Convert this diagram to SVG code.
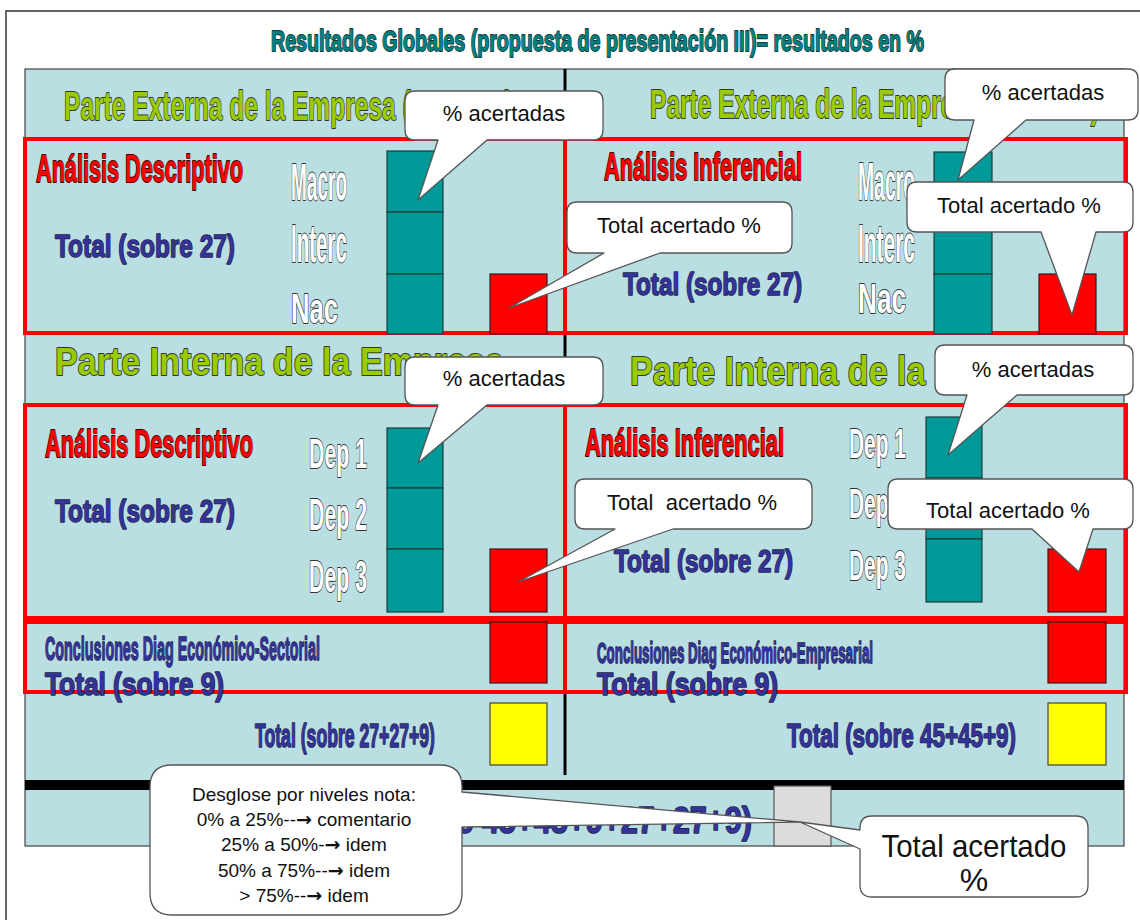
<svg xmlns="http://www.w3.org/2000/svg" width="1140" height="920" viewBox="0 0 1140 920">
<style>
.t{font-family:"Liberation Sans Narrow","Liberation Sans",Arial,sans-serif;font-weight:bold;paint-order:stroke;stroke-linejoin:round}
.title{fill:#008080;stroke:#173737;stroke-width:1.8px;font-size:30px}
.green{fill:#99CC00;stroke:#333;stroke-width:1.8px}
.red{fill:#FF0000;stroke:#3a0000;stroke-width:1.8px}
.navy{fill:#333399;stroke:#1a1a40;stroke-width:1.5px}
.white{fill:#fff;stroke:#333;stroke-width:1.8px}
.box{fill:none;stroke:#FF0000;stroke-width:4}
.teal{fill:#009999;stroke:#1e3c3c;stroke-width:1.2}
.rsq{fill:#FF0000;stroke:#3a1a1a;stroke-width:1.2}
.ysq{fill:#FFFF00;stroke:#444;stroke-width:1.2}
.callout{fill:#fff;stroke:#555;stroke-width:1.3;stroke-linejoin:round}
.ct{font-family:"Liberation Sans",Arial,sans-serif;fill:#111;font-size:22px;text-anchor:middle}
.big{font-size:32px}
.dt{font-family:"Liberation Sans","DejaVu Sans",Arial,sans-serif;fill:#111;font-size:19px;text-anchor:middle}
.ar{font-family:"DejaVu Sans",sans-serif;font-weight:bold}
</style>
<rect x="0" y="0" width="1140" height="920" fill="#fff"/>
<rect x="6" y="11" width="1200" height="1000" fill="#fff" stroke="#333" stroke-width="1.5"/>

<g id="title">
<text class="t title" x="271" y="51" textLength="653" lengthAdjust="spacingAndGlyphs">Resultados Globales (propuesta de presentación III)= resultados en %</text>
</g>

<g id="panel">
<rect x="25" y="69" width="1099" height="777" fill="#BADFE2" stroke="#444" stroke-width="1.2"/>
<line x1="565" y1="69" x2="565" y2="775" stroke="#000" stroke-width="3"/>
<rect x="25" y="780" width="1099" height="10" fill="#000"/>
</g>

<g id="headers">
<text class="t green" x="64" y="120" font-size="41" textLength="449" lengthAdjust="spacingAndGlyphs">Parte Externa de la Empresa (Entorno)</text>
<text class="t green" x="650" y="118" font-size="40" textLength="449" lengthAdjust="spacingAndGlyphs">Parte Externa de la Empresa (Entorno)</text>
<text class="t green" x="55" y="375" font-size="39" textLength="449" lengthAdjust="spacingAndGlyphs">Parte Interna de la Empresa</text>
<text class="t green" x="630" y="385" font-size="40" textLength="449" lengthAdjust="spacingAndGlyphs">Parte Interna de la Empresa</text>
</g>

<g id="ext-desc">
<rect class="box" x="25" y="139" width="540" height="194"/>
<text class="t red" x="36" y="182" font-size="38" textLength="207" lengthAdjust="spacingAndGlyphs">Análisis Descriptivo</text>
<text class="t navy" x="55" y="257" font-size="32" textLength="180" lengthAdjust="spacingAndGlyphs">Total (sobre 27)</text>
<text class="t white" x="291" y="200" font-size="52" textLength="56" lengthAdjust="spacingAndGlyphs">Macro</text>
<text class="t white" x="291" y="262" font-size="53" textLength="56" lengthAdjust="spacingAndGlyphs">Interc</text>
<text class="t white" x="291" y="323" font-size="42" textLength="47" lengthAdjust="spacingAndGlyphs">Nac</text>
<rect class="teal" x="387" y="151" width="56" height="61"/>
<rect class="teal" x="387" y="212" width="56" height="62"/>
<rect class="teal" x="387" y="274" width="56" height="60"/>
<rect class="rsq" x="490" y="274" width="57" height="60"/>
</g>

<g id="ext-inf">
<rect class="box" x="565" y="139" width="561" height="194"/>
<text class="t red" x="604" y="180" font-size="38" textLength="198" lengthAdjust="spacingAndGlyphs">Análisis Inferencial</text>
<text class="t navy" x="623" y="295" font-size="32" textLength="179" lengthAdjust="spacingAndGlyphs">Total (sobre 27)</text>
<text class="t white" x="858" y="200" font-size="54" textLength="57" lengthAdjust="spacingAndGlyphs">Macro</text>
<text class="t white" x="858" y="262" font-size="54" textLength="57" lengthAdjust="spacingAndGlyphs">Interc</text>
<text class="t white" x="858" y="313" font-size="42" textLength="48" lengthAdjust="spacingAndGlyphs">Nac</text>
<rect class="teal" x="934" y="152" width="58" height="61"/>
<rect class="teal" x="934" y="213" width="58" height="61"/>
<rect class="teal" x="934" y="274" width="58" height="60"/>
<rect class="rsq" x="1039" y="274" width="57" height="60"/>
</g>

<g id="int-desc">
<rect class="box" x="25" y="405" width="540" height="213"/>
<text class="t red" x="45" y="457" font-size="38" textLength="208" lengthAdjust="spacingAndGlyphs">Análisis Descriptivo</text>
<text class="t navy" x="55" y="522" font-size="32" textLength="180" lengthAdjust="spacingAndGlyphs">Total (sobre 27)</text>
<text class="t white" x="309" y="468" font-size="43" textLength="58" lengthAdjust="spacingAndGlyphs">Dep 1</text>
<text class="t white" x="309" y="530" font-size="44" textLength="58" lengthAdjust="spacingAndGlyphs">Dep 2</text>
<text class="t white" x="309" y="592" font-size="44" textLength="58" lengthAdjust="spacingAndGlyphs">Dep 3</text>
<rect class="teal" x="387" y="428" width="56" height="60"/>
<rect class="teal" x="387" y="488" width="56" height="61"/>
<rect class="teal" x="387" y="549" width="56" height="63"/>
<rect class="rsq" x="490" y="549" width="57" height="63"/>
</g>

<g id="int-inf">
<rect class="box" x="565" y="405" width="561" height="213"/>
<text class="t red" x="585" y="456" font-size="38" textLength="199" lengthAdjust="spacingAndGlyphs">Análisis Inferencial</text>
<text class="t navy" x="614" y="572" font-size="32" textLength="179" lengthAdjust="spacingAndGlyphs">Total (sobre 27)</text>
<text class="t white" x="849" y="458" font-size="43" textLength="57" lengthAdjust="spacingAndGlyphs">Dep 1</text>
<text class="t white" x="849" y="518" font-size="43" textLength="57" lengthAdjust="spacingAndGlyphs">Dep 2</text>
<text class="t white" x="849" y="580" font-size="43" textLength="57" lengthAdjust="spacingAndGlyphs">Dep 3</text>
<rect class="teal" x="926" y="417" width="56" height="61"/>
<rect class="teal" x="926" y="478" width="56" height="61"/>
<rect class="teal" x="926" y="539" width="56" height="63"/>
<rect class="rsq" x="1048" y="549" width="58" height="63"/>
</g>

<g id="conclusiones">
<rect class="box" x="25" y="622" width="540" height="70"/>
<rect class="box" x="565" y="622" width="561" height="70"/>
<text class="t navy" x="45" y="660" font-size="34" textLength="275" lengthAdjust="spacingAndGlyphs">Conclusiones Diag Económico-Sectorial</text>
<text class="t navy" x="45" y="695" font-size="31" textLength="179" lengthAdjust="spacingAndGlyphs">Total (sobre 9)</text>
<text class="t navy" x="597" y="663" font-size="29" textLength="276" lengthAdjust="spacingAndGlyphs">Conclusiones Diag Económico-Empresarial</text>
<text class="t navy" x="597" y="695" font-size="31" textLength="181" lengthAdjust="spacingAndGlyphs">Total (sobre 9)</text>
<rect class="rsq" x="490" y="622" width="57" height="61"/>
<rect class="rsq" x="1048" y="622" width="58" height="61"/>
</g>

<g id="totales">
<text class="t navy" x="255" y="747" font-size="33" textLength="180" lengthAdjust="spacingAndGlyphs">Total (sobre 27+27+9)</text>
<rect class="ysq" x="490" y="703" width="57" height="62"/>
<text class="t navy" x="787" y="747" font-size="34" textLength="229" lengthAdjust="spacingAndGlyphs">Total (sobre 45+45+9)</text>
<rect class="ysq" x="1048" y="703" width="58" height="62"/>
</g>

<g id="total-global">
<text class="t navy" x="300" y="833" font-size="36" textLength="452" lengthAdjust="spacingAndGlyphs">Total (sobre 45+45+9+27+27+9)</text>
<rect x="774" y="786" width="57" height="60" fill="#DCDCDC" stroke="#555" stroke-width="1.2"/>
</g>

<g id="connectors">
<g id="c1"><path class="callout" d="M415,91 H593 Q603,91 603,101 V130 Q603,140 593,140 H487 L418,200 L438,140 H415 Q405,140 405,130 V101 Q405,91 415,91 Z"/>
<text class="ct" x="504" y="121">% acertadas</text></g>
<g id="c2"><path class="callout" d="M955,69 H1128 Q1138,69 1138,79 V110 Q1138,120 1128,120 H1026 L958,180 L974,120 H955 Q945,120 945,110 V79 Q945,69 955,69 Z"/>
<text class="ct" x="1043" y="100">% acertadas</text></g>
<g id="c3"><path class="callout" d="M577,202 H782 Q792,202 792,212 V243 Q792,253 782,253 H660 L509,308 L604,253 H577 Q567,253 567,243 V212 Q567,202 577,202 Z"/>
<text class="ct" x="679" y="233">Total acertado %</text></g>
<g id="c4"><path class="callout" d="M917,182 H1123 Q1133,182 1133,192 V222 Q1133,232 1123,232 H1096 L1072,315 L1041,232 H917 Q907,232 907,222 V192 Q907,182 917,182 Z"/>
<text class="ct" x="1019" y="213">Total acertado %</text></g>
<g id="c5"><path class="callout" d="M415,357 H593 Q603,357 603,367 V395 Q603,405 593,405 H487 L418,463 L438,405 H415 Q405,405 405,395 V367 Q405,357 415,357 Z"/>
<text class="ct" x="504" y="386">% acertadas</text></g>
<g id="c6"><path class="callout" d="M945,345 H1123 Q1133,345 1133,355 V385 Q1133,395 1123,395 H1017 L948,455 L967,395 H945 Q935,395 935,385 V355 Q935,345 945,345 Z"/>
<text class="ct" x="1033" y="377">% acertadas</text></g>
<g id="c7"><path class="callout" d="M585,479 H802 Q812,479 812,489 V519 Q812,529 802,529 H673 L518,582 L615,529 H585 Q575,529 575,519 V489 Q575,479 585,479 Z"/>
<text class="ct" x="692" y="510" xml:space="preserve">Total  acertado %</text></g>
<g id="c8"><path class="callout" d="M898,479 H1123 Q1133,479 1133,489 V519 Q1133,529 1123,529 H1093 L1079,572 L1032,529 H898 Q888,529 888,519 V489 Q888,479 898,479 Z"/>
<text class="ct" x="1008" y="518">Total acertado %</text></g>
<g id="c9"><path class="callout" d="M172,765 H440 Q462,765 462,787 V792 L800,822 L462,827 V893 Q462,915 440,915 H172 Q150,915 150,893 V787 Q150,765 172,765 Z"/>
<text class="dt" x="304" y="801">Desglose por niveles nota:</text>
<text class="dt" x="304" y="826">0% a 25%--<tspan class="ar">→</tspan> comentario</text>
<text class="dt" x="304" y="851">25% a 50%-<tspan class="ar">→</tspan> idem</text>
<text class="dt" x="304" y="877">50% a 75%--<tspan class="ar">→</tspan> idem</text>
<text class="dt" x="304" y="902">&gt; 75%--<tspan class="ar">→</tspan> idem</text></g>
<g id="c10"><path class="callout" d="M872,816 H1076 Q1088,816 1088,828 V885 Q1088,897 1076,897 H872 Q860,897 860,885 V849 L800,822 L860,830 V828 Q860,816 872,816 Z"/>
<text class="ct big" x="974" y="857" textLength="185" lengthAdjust="spacingAndGlyphs">Total acertado</text>
<text class="ct big" x="974" y="891">%</text></g>
</g>
</svg>
